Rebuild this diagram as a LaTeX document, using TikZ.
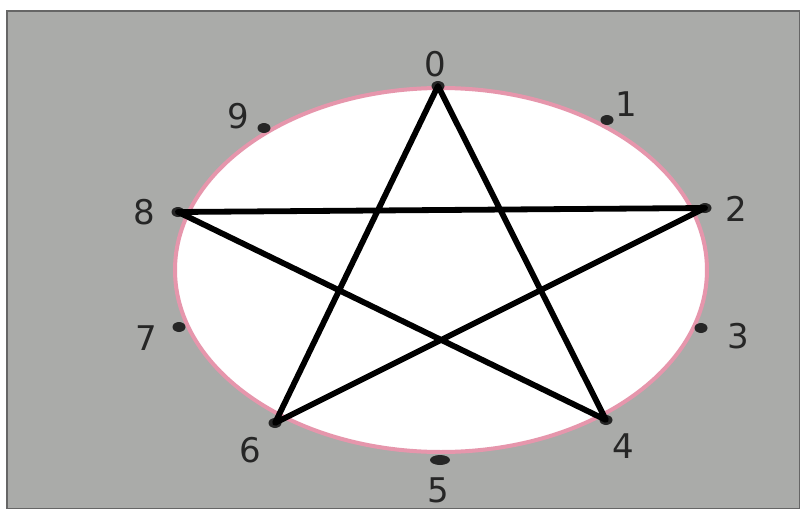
\documentclass[tikz,border=0pt]{standalone}
\usepackage{fontspec}
\setmainfont{DejaVu Sans}
\usetikzlibrary{positioning,shapes.geometric}
\definecolor{paper}{RGB}{170,171,169}
\definecolor{rim}{RGB}{230,150,172}

\begin{document}
\begin{tikzpicture}[x=0.5pt, y=-0.5pt,
    dot/.style={ellipse, fill=black!85, inner sep=0pt, minimum width=6.5pt, minimum height=5pt},
    num/.style={inner sep=0pt, font=\fontsize{17}{20}\selectfont, text=black!85},
    edge/.style={line width=2.9pt, line cap=round, line join=round}]
  \useasboundingbox (0,0) rectangle (800,509);
  \fill[white] (0,0) rectangle (800,509);
  \filldraw[fill=paper, draw=black!60, line width=0.7pt] (7,11) rectangle (800,509);
  % the dial
  \filldraw[fill=white, draw=rim, line width=2pt]
    (441,270) ellipse [x radius=266, y radius=182];
  % points on the dial
  \node[dot] (d0) at (438,86)  {};
  \node[dot] (d1) at (607,120) {};
  \node[dot] (d2) at (705,208) {};
  \node[dot] (d3) at (701,328) {};
  \node[dot] (d4) at (606,420) {};
  \node[dot, minimum width=10pt] (d5) at (440,460) {};
  \node[dot] (d6) at (275,423) {};
  \node[dot] (d7) at (179,327) {};
  \node[dot] (d8) at (178,212) {};
  \node[dot] (d9) at (264,128) {};
  % numbers
  \node[num] (n0) at (435,64)  {0};
  \node[num] (n1) at (626,104) {1};
  \node[num] (n2) at (736,209) {2};
  \node[num] (n3) at (738,336) {3};
  \node[num] (n4) at (623,446) {4};
  \node[num] (n5) at (438,490) {5};
  \node[num] (n6) at (250,450) {6};
  \node[num] (n7) at (146,338) {7};
  \node[num] (n8) at (144,212) {8};
  \node[num] (n9) at (238,116) {9};
  % the star
  \draw[edge] (d0.center) -- (d4.center) -- (d8.center) -- (d2.center)
    -- (d6.center) -- cycle;
\end{tikzpicture}
\end{document}
